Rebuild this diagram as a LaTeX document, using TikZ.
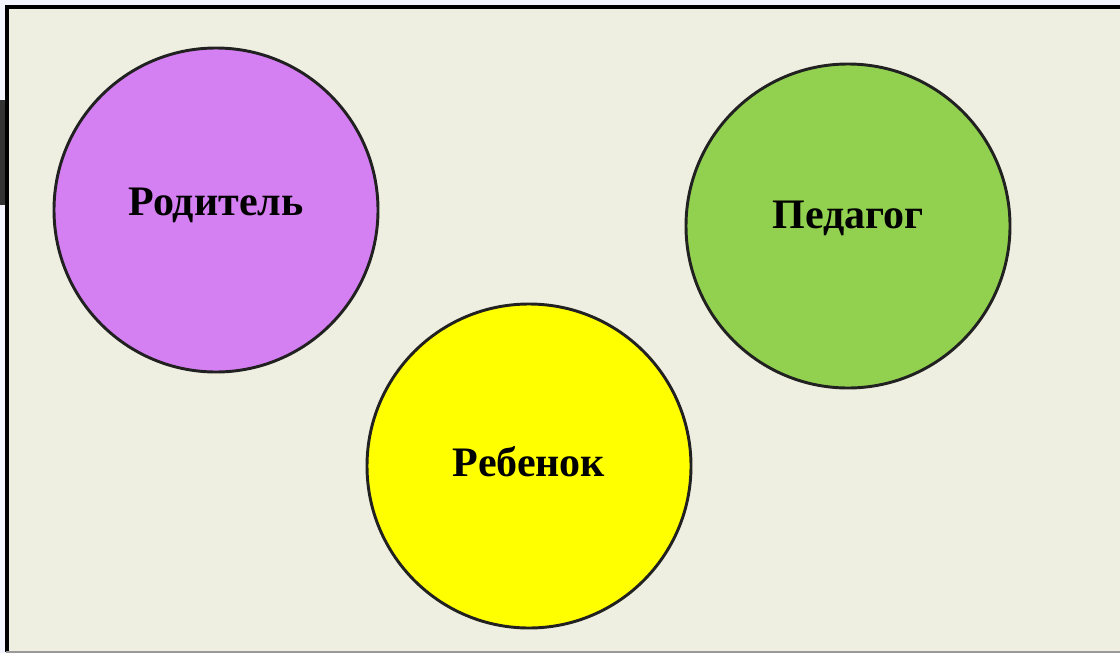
\documentclass[tikz,border=0pt]{standalone}
\usepackage{fontspec}
\setmainfont{Liberation Serif}
\usepackage{tikz}

\definecolor{panelbg}{HTML}{EFEFE1}
\definecolor{rodcol}{HTML}{D580F2}
\definecolor{pedcol}{HTML}{92D050}
\definecolor{rebcol}{HTML}{FFFF00}

\begin{document}
\begin{tikzpicture}[x=0.75pt,y=-0.75pt,
        ball/.style={circle,draw=black!87,line width=2.2pt,minimum size=324*0.75pt,inner sep=0pt},
        lbl/.style={font=\bfseries\fontsize{31.5}{31.5}\selectfont,inner sep=0pt}]
        \useasboundingbox (0,0) rectangle (1120,653);
        % frame
        \fill[white!96!blue] (0,0) rectangle (1120,653);
        \fill[black!80] (0,100) rectangle (5,205);
        \fill[panelbg] (6,6) rectangle (1120,652);
        \draw[line width=3pt](6.5,652)--(6.5,6.5)--(1120,6.5);
        \draw[black!40,line width=1pt](6,652)--(1120,652);
        % circles
        \node[ball,fill=rodcol] (rod) at (216,210) {};
        \node[ball,fill=pedcol] (ped) at (848,226) {};
        \node[ball,fill=rebcol] (reb) at (529,466) {};
        \node[lbl] (rodt) at ([yshift=5*0.75pt]rod.center) {Родитель};
        \node[lbl] (pedt) at ([yshift=8*0.75pt]ped.center) {Педагог};
        \node[lbl] (rebt) at ([yshift=4*0.75pt]reb.center) {Ребенок};
\end{tikzpicture}
\end{document}
